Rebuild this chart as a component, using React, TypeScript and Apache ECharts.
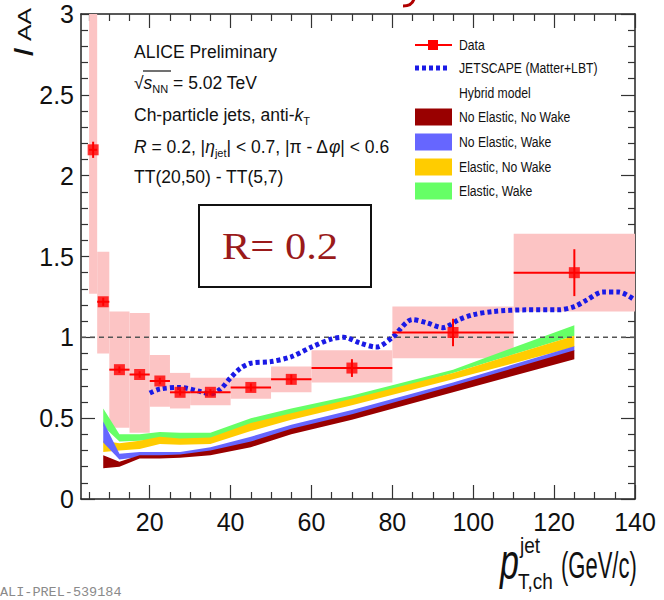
import React, { useEffect, useRef } from "react";
import * as echarts from "echarts";

// ---------------- data ----------------
const binLo = [5, 7, 10, 15, 20, 25, 30, 40, 50, 60, 80, 110];
const binHi = [7, 10, 15, 20, 25, 30, 40, 50, 60, 80, 110, 140];
const dataX = [6, 8.5, 12.5, 17.5, 22.5, 27.5, 35, 45, 55, 70, 95, 125];
const dataY = [2.16, 1.22, 0.8, 0.77, 0.73, 0.66, 0.66, 0.69, 0.74, 0.81, 1.03, 1.4];
const statErr = [0.05, 0.025, 0.02, 0.02, 0.02, 0.02, 0.02, 0.025, 0.03, 0.055, 0.085, 0.145];
const systLo = [1.27, 0.9, 0.44, 0.41, 0.57, 0.56, 0.58, 0.62, 0.66, 0.72, 0.87, 1.16];
const systHi = [3.5, 1.53, 1.16, 1.15, 0.89, 0.78, 0.75, 0.75, 0.82, 0.92, 1.19, 1.64];

const jetscapeX = [20, 22.5, 27.5, 32.5, 35, 37.5, 40, 42.5, 45, 50, 55, 60, 65, 68, 72, 76, 80, 85, 88.5, 92.5, 96.5, 100, 105, 113, 121, 125, 128, 132, 136, 140];
const jetscapeY = [0.655, 0.68, 0.69, 0.665, 0.65, 0.68, 0.75, 0.81, 0.84, 0.85, 0.88, 0.94, 0.99, 1.0, 0.965, 0.94, 1.0, 1.11, 1.09, 1.06, 1.11, 1.14, 1.16, 1.17, 1.17, 1.19, 1.23, 1.28, 1.28, 1.23];

const hybridX = [8.5, 12.5, 17.5, 22.5, 27.5, 35, 45, 55, 70, 95, 125];
const elWakeLo = [0.45, 0.355, 0.36, 0.37, 0.37, 0.375, 0.46, 0.52, 0.6, 0.78, 1.01];
const elWakeHi = [0.56, 0.4, 0.4, 0.415, 0.41, 0.41, 0.5, 0.56, 0.64, 0.8, 1.075];
const elNoWakeLo = [0.29, 0.3, 0.31, 0.34, 0.335, 0.34, 0.42, 0.49, 0.58, 0.74, 0.94];
const elNoWakeHi = [0.36, 0.345, 0.36, 0.385, 0.375, 0.38, 0.47, 0.53, 0.62, 0.78, 1.01];
const noElWakeLo = [0.35, 0.245, 0.26, 0.265, 0.265, 0.29, 0.35, 0.43, 0.52, 0.69, 0.915];
const noElWakeHi = [0.48, 0.28, 0.29, 0.29, 0.29, 0.32, 0.385, 0.46, 0.55, 0.72, 0.945];
const noElNoWakeLo = [0.19, 0.2, 0.25, 0.25, 0.255, 0.27, 0.32, 0.4, 0.49, 0.66, 0.865];
const noElNoWakeHi = [0.27, 0.23, 0.27, 0.27, 0.275, 0.3, 0.355, 0.435, 0.525, 0.7, 0.92];

const xMajorTicks = [20, 40, 60, 80, 100, 120, 140];
const xMinorTicks = [5, 10, 15, 25, 30, 35, 45, 50, 55, 65, 70, 75, 85, 90, 95, 105, 110, 115, 125, 130, 135];

// ---------------- style ----------------
const NARROW = "'Liberation Sans Narrow', 'Arial Narrow', 'Liberation Sans', Arial, sans-serif";
const SANS = "'Liberation Sans', Arial, Helvetica, sans-serif";
const C_GREEN = "#66ff66";
const C_YELLOW = "#ffcc00";
const C_BLUE = "#6666ff";
const C_DRED = "#990000";
const C_RED = "#ff0000";
const C_PINK = "#fcc4c4";
const C_JET = "#1a1ae6";

function bandSeries(name: string, lo: number[], hi: number[], color: string, z: number) {
  return {
    type: "custom",
    name,
    z,
    silent: true,
    data: [[hybridX[0], lo[0]]],
    encode: { x: 0, y: 1 },
    renderItem: (params: any, api: any) => {
      const pts: number[][] = [];
      for (let i = 0; i < hybridX.length; i++) pts.push(api.coord([hybridX[i], hi[i]]));
      for (let i = hybridX.length - 1; i >= 0; i--) pts.push(api.coord([hybridX[i], lo[i]]));
      return { type: "polygon", shape: { points: pts }, style: { fill: color } };
    },
  };
}

function xAxisDef(position: string, major: boolean) {
  return {
    type: "value",
    min: 3,
    max: 140,
    position,
    axisLine: { show: major, onZero: false, lineStyle: { color: "#222", width: 1.5 } },
    axisTick: {
      show: true,
      inside: true,
      length: major ? 14 : 7,
      customValues: major ? xMajorTicks : xMinorTicks,
      lineStyle: { color: "#333", width: 1.2 },
    },
    axisLabel:
      major && position === "bottom"
        ? { show: true, customValues: xMajorTicks, fontSize: 25, fontFamily: NARROW, color: "#111", margin: 10 }
        : { show: false },
    splitLine: { show: false },
  };
}

function yAxisDef(position: string) {
  return {
    type: "value",
    min: 0,
    max: 3,
    interval: 0.5,
    position,
    axisLine: { show: true, onZero: false, lineStyle: { color: "#222", width: 1.5 } },
    axisTick: { show: true, inside: true, length: 14, lineStyle: { color: "#333", width: 1.2 } },
    minorTick: { show: true, splitNumber: 5, length: 7, lineStyle: { color: "#333", width: 1.2 } },
    axisLabel:
      position === "left"
        ? { show: true, fontSize: 25, fontFamily: NARROW, color: "#111", margin: 7 }
        : { show: false },
    splitLine: { show: false },
    minorSplitLine: { show: false },
  };
}

const legendRows = [
  { label: "No Elastic, No Wake", color: C_DRED, y: 117 },
  { label: "No Elastic, Wake", color: C_BLUE, y: 142 },
  { label: "Elastic, No Wake", color: C_YELLOW, y: 167 },
  { label: "Elastic, Wake", color: C_GREEN, y: 191 },
];

function legendText(text: string, x: number, y: number) {
  return {
    type: "text",
    x,
    y,
    scaleY: 1.25,
    style: { text, x: 0, y: 0, fontSize: 12.2, fontFamily: SANS, fill: "#111", verticalAlign: "middle" },
  };
}

const richBase = {
  n: { fontSize: 17.5, lineHeight: 22, fontFamily: SANS, fill: "#111" },
  i: { fontSize: 17.5, lineHeight: 22, fontFamily: SANS, fill: "#111", fontStyle: "italic" },
  sub: { fontSize: 11, lineHeight: 6, fontFamily: SANS, fill: "#111", verticalAlign: "bottom" },
  subL: { fontSize: 11, lineHeight: 1, fontFamily: SANS, fill: "#111", verticalAlign: "bottom" },
};

function infoLine(text: string, y: number) {
  return {
    type: "text",
    x: 134,
    y,
    style: { text, rich: richBase, verticalAlign: "middle", fontSize: 17.5, fontFamily: SANS, fill: "#111" },
  };
}

const graphics: any[] = [
  // fragment of a cropped heading at the very top edge
  {
    type: "bezierCurve",
    shape: { x1: 414, y1: -1, x2: 403, y2: 6, cpx1: 412, cpy1: 6 },
    style: { stroke: "#b00000", lineWidth: 3, fill: "none" },
  },
  // y axis title
  {
    type: "text",
    x: 37,
    y: 57,
    rotation: Math.PI / 2,
    scaleX: 1.25,
    style: { text: "I", fontSize: 27, fontStyle: "italic", fontFamily: SANS, fill: "#111", align: "left", verticalAlign: "bottom" },
  },
  {
    type: "text",
    x: 34,
    y: 41,
    rotation: Math.PI / 2,
    scaleX: 1.3,
    style: { text: "AA", fontSize: 19, fontFamily: SANS, fill: "#111", align: "left", verticalAlign: "bottom" },
  },
  // x axis title
  {
    type: "text",
    x: 500,
    y: 562,
    scaleY: 1.45,
    style: { text: "p", fontSize: 34, fontStyle: "italic", fontFamily: SANS, fill: "#111", verticalAlign: "middle" },
  },
  {
    type: "text",
    x: 520,
    y: 545,
    scaleY: 1.2,
    style: { text: "jet", fontSize: 19, fontFamily: SANS, fill: "#111", verticalAlign: "middle" },
  },
  {
    type: "text",
    x: 518,
    y: 581,
    scaleY: 1.2,
    style: { text: "T,ch", fontSize: 19, fontFamily: SANS, fill: "#111", verticalAlign: "middle" },
  },
  {
    type: "text",
    x: 561,
    y: 565,
    scaleY: 1.7,
    style: { text: "(GeV/c)", fontSize: 22, fontFamily: SANS, fill: "#111", verticalAlign: "middle" },
  },
  // watermark
  {
    type: "text",
    x: 0,
    y: 592,
    style: { text: "ALI-PREL-539184", fontSize: 13.5, fontFamily: "'Liberation Mono', 'DejaVu Sans Mono', monospace", fill: "#8a8a8a", verticalAlign: "middle" },
  },
  // info text block
  infoLine("{n|ALICE Preliminary}", 52),
  infoLine("{n|√}{i|s}{sub|NN}{n| = 5.02 TeV}", 83),
  { type: "line", shape: { x1: 143, y1: 71, x2: 171, y2: 71 }, style: { stroke: "#111", lineWidth: 1.2 } },
  infoLine("{n|Ch-particle jets, anti-}{i|k}{sub|T}", 115),
  infoLine("{i|R}{n| = 0.2, |}{i|η}{subL|jet}{n|| < 0.7, |π - Δ}{i|φ}{n|| < 0.6}", 147),
  infoLine("{n|TT(20,50) - TT(5,7)}", 177),
  // R box
  { type: "rect", shape: { x: 199, y: 205, width: 172, height: 82 }, style: { fill: "none", stroke: "#111", lineWidth: 2 } },
  {
    type: "text",
    x: 280,
    y: 246,
    scaleX: 1.12,
    style: { text: "R= 0.2", fontSize: 38, fontFamily: "'Liberation Serif', 'DejaVu Serif', serif", fill: "#9a1a1a", align: "center", verticalAlign: "middle" },
  },
  // legend
  { type: "line", shape: { x1: 415, y1: 45, x2: 452, y2: 45 }, style: { stroke: C_RED, lineWidth: 2 } },
  { type: "rect", shape: { x: 428, y: 40, width: 10, height: 10 }, style: { fill: C_RED } },
  legendText("Data", 459, 45),
  { type: "line", shape: { x1: 415, y1: 68, x2: 449, y2: 68 }, style: { stroke: C_JET, lineWidth: 5, lineDash: [4, 3] } },
  legendText("JETSCAPE (Matter+LBT)", 459, 68),
  legendText("Hybrid model", 459, 93),
  ...legendRows.flatMap((r) => [
    { type: "rect", shape: { x: 415, y: r.y - 8.5, width: 37, height: 17 }, style: { fill: r.color } },
    legendText(r.label, 459, r.y),
  ]),
];

const option: any = {
  animation: false,
  backgroundColor: "#ffffff",
  grid: { left: 81, right: 29, top: 14, bottom: 101, containLabel: false },
  xAxis: [xAxisDef("bottom", true), xAxisDef("bottom", false), xAxisDef("top", true), xAxisDef("top", false)],
  yAxis: [yAxisDef("left"), yAxisDef("right")],
  series: [
    {
      type: "custom",
      name: "Data systematic",
      z: 1,
      silent: true,
      data: binLo.map((lo, i) => [lo, binHi[i], systLo[i], systHi[i]]),
      encode: { x: [0, 1], y: [2, 3] },
      renderItem: (params: any, api: any) => {
        const p0 = api.coord([api.value(0), api.value(3)]);
        const p1 = api.coord([api.value(1), api.value(2)]);
        const cs = params.coordSys;
        const shape = echarts.graphic.clipRectByRect(
          { x: p0[0], y: p0[1], width: p1[0] - p0[0], height: p1[1] - p0[1] },
          { x: cs.x, y: cs.y, width: cs.width, height: cs.height }
        );
        return shape ? { type: "rect", shape, style: { fill: C_PINK } } : null;
      },
    },
    bandSeries("Elastic, Wake", elWakeLo, elWakeHi, C_GREEN, 2),
    bandSeries("Elastic, No Wake", elNoWakeLo, elNoWakeHi, C_YELLOW, 2),
    bandSeries("No Elastic, Wake", noElWakeLo, noElWakeHi, C_BLUE, 2),
    bandSeries("No Elastic, No Wake", noElNoWakeLo, noElNoWakeHi, C_DRED, 2),
    {
      type: "line",
      name: "unity",
      z: 3,
      silent: true,
      symbol: "none",
      data: [[3, 1], [140, 1]],
      lineStyle: { color: "#555", width: 1.5, type: [5, 4] },
    },
    {
      type: "line",
      name: "JETSCAPE (Matter+LBT)",
      z: 4,
      symbol: "none",
      smooth: 0.3,
      data: jetscapeX.map((x, i) => [x, jetscapeY[i]]),
      lineStyle: { color: C_JET, width: 5, type: [4, 3], cap: "butt" },
    },
    {
      type: "custom",
      name: "Data errors",
      z: 5,
      data: dataX.map((x, i) => [x, dataY[i], binLo[i], binHi[i], statErr[i]]),
      encode: { x: 0, y: 1 },
      renderItem: (params: any, api: any) => {
        const x = api.value(0);
        const y = api.value(1);
        const a = api.coord([api.value(2), y]);
        const b = api.coord([api.value(3), y]);
        const c = api.coord([x, y - api.value(4)]);
        const d = api.coord([x, y + api.value(4)]);
        return {
          type: "group",
          children: [
            { type: "line", shape: { x1: a[0], y1: a[1], x2: b[0], y2: b[1] }, style: { stroke: C_RED, lineWidth: 2 } },
            { type: "line", shape: { x1: c[0], y1: c[1], x2: d[0], y2: d[1] }, style: { stroke: C_RED, lineWidth: 2 } },
          ],
        };
      },
    },
    {
      type: "scatter",
      name: "Data",
      z: 6,
      symbol: "rect",
      symbolSize: 11,
      data: dataX.map((x, i) => [x, dataY[i]]),
      itemStyle: { color: C_RED },
    },
  ],
  graphic: graphics,
};

export default function App() {
  const ref = useRef<HTMLDivElement>(null);
  useEffect(() => {
    const chart = echarts.init(ref.current as HTMLDivElement, null, { renderer: "svg" });
    chart.setOption(option);
    return () => chart.dispose();
  }, []);
  return (
    <div
      ref={ref}
      style={{ position: "absolute", left: 0, top: 0, width: 664, height: 600, background: "#fff" }}
    />
  );
}
